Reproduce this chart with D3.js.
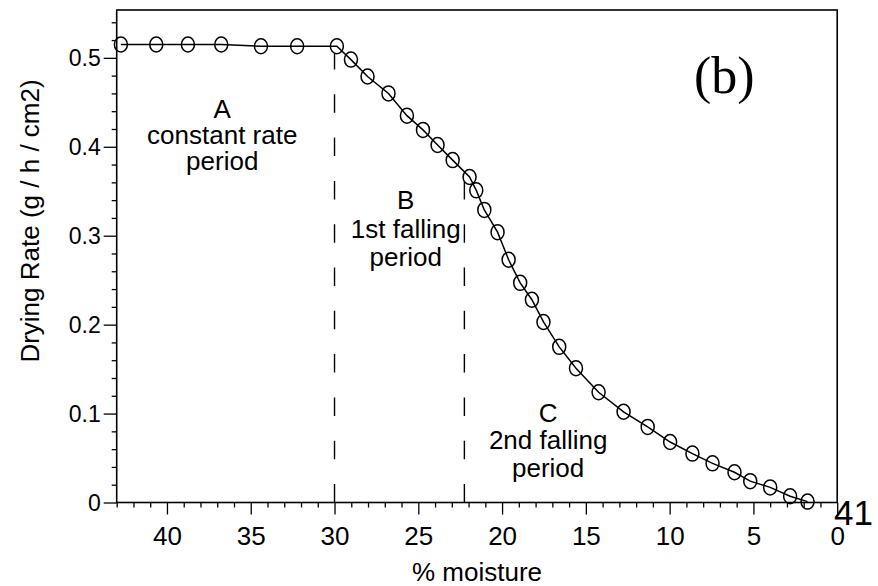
<!DOCTYPE html>
<html>
<head>
<meta charset="utf-8">
<script src="https://cdn.jsdelivr.net/npm/d3@7"></script>
<style>
  html, body { margin: 0; padding: 0; background: #fff; }
  svg { display: block; }
  text { font-family: "Liberation Sans", Arial, sans-serif; fill: #000; }
</style>
</head>
<body>
<svg id="chart" width="878" height="586"></svg>
<script>
// ---- data ----
const moisture = [42.75, 40.64, 38.75, 36.76, 34.39, 32.23, 29.86, 29.02, 28.03, 26.78,
  25.68, 24.72, 23.85, 22.95, 21.94, 21.54, 21.06, 20.27, 19.61, 18.92,
  18.22, 17.53, 16.59, 15.59, 14.24, 12.75, 11.31, 9.97, 8.64, 7.44,
  6.13, 5.19, 4.00, 2.81, 1.77];
const dryingRate = [0.515, 0.515, 0.515, 0.515, 0.513, 0.513, 0.513, 0.498, 0.479, 0.460,
  0.435, 0.419, 0.402, 0.385, 0.366, 0.351, 0.329, 0.304, 0.273, 0.247,
  0.228, 0.203, 0.175, 0.151, 0.124, 0.102, 0.085, 0.068, 0.055, 0.044,
  0.034, 0.024, 0.017, 0.007, 0.001];
const xMajorTicks = [40, 35, 30, 25, 20, 15, 10, 5, 0];
const yMajorTicks = [0, 0.1, 0.2, 0.3, 0.4, 0.5];
const yTickLabels = ["0", "0.1", "0.2", "0.3", "0.4", "0.5"];
const periodBoundaries = [30, 22.25];
const boundaryTops = [0.505, 0.362];
const regionLabelsA = ["A", "constant rate", "period"];
const regionLabelsB = ["B", "1st falling", "period"];
const regionLabelsC = ["C", "2nd falling", "period"];
const regionCenters = [36.7, 25.75, 17.25];   // moisture position of each label block
const regionTopRates = [0.432, 0.33, 0.091]; // rate at baseline of first line
const xTitle = "% moisture";
const yTitle = "Drying Rate (g / h / cm2)";
const panelLabel = "(b)";
const strayLabel = "41";

// ---- layout ----
const svg = d3.select("#chart");
const L = 116.7, R = 837.2, T = 10, B = 502.5;
const x = d3.scaleLinear().domain([43, 0]).range([L, R]);
const y = d3.scaleLinear().domain([0, 0.5538]).range([B, T]);

// minor ticks
const xMinor = d3.range(0, 44, 1).filter(v => v % 5 !== 0);
const yMinor = d3.range(0, 0.55, 0.02).map(v => +v.toFixed(2)).filter(v => Math.abs(v * 10 - Math.round(v * 10)) > 1e-6);

// x axis
const gx = svg.append("g").attr("transform", `translate(0,${B})`);
gx.call(d3.axisBottom(x).tickValues(xMinor).tickSize(5).tickFormat(""));
gx.call(g => g.select(".domain").remove());
const gx2 = svg.append("g").attr("transform", `translate(0,${B})`);
gx2.call(d3.axisBottom(x).tickValues(xMajorTicks).tickSize(12).tickFormat(d3.format("d")));
gx2.select(".domain").remove();
gx2.selectAll("text").attr("y", 42.5).attr("dy", null)
  .style("font-size", "26px").style("font-family", "Liberation Sans, Arial, sans-serif").attr("fill", "#000");
svg.selectAll(".tick line").attr("stroke", "#000").attr("stroke-width", 1.3);

// y axis
const gy = svg.append("g").attr("transform", `translate(${L},0)`);
gy.call(d3.axisLeft(y).tickValues(yMinor).tickSize(5).tickFormat(""));
gy.select(".domain").remove();
const gy2 = svg.append("g").attr("transform", `translate(${L},0)`);
gy2.call(d3.axisLeft(y).tickValues(yMajorTicks).tickSize(13).tickPadding(3)
  .tickFormat((d, i) => yTickLabels[i]));
gy2.select(".domain").remove();
gy2.selectAll("text").attr("dy", "0.35em")
  .style("font-size", "23px").style("font-family", "Liberation Sans, Arial, sans-serif").attr("fill", "#000");
svg.selectAll(".tick line").attr("stroke", "#000").attr("stroke-width", 1.3);

// frame
svg.append("rect").attr("x", L).attr("y", T).attr("width", R - L).attr("height", B - T)
  .attr("fill", "none").attr("stroke", "#000").attr("stroke-width", 1.6);

// dashed period boundaries
svg.selectAll(".boundary").data(periodBoundaries).enter().append("line")
  .attr("x1", d => x(d)).attr("x2", d => x(d))
  .attr("y1", y(0)).attr("y2", (d, i) => y(boundaryTops[i]))
  .attr("stroke", "#000").attr("stroke-width", 1.4)
  .attr("stroke-dasharray", "18.5,24.8");

// curve
const pts = moisture.map((m, i) => [m, dryingRate[i]]);
svg.append("path").datum(pts)
  .attr("d", d3.line().x(d => x(d[0])).y(d => y(d[1])))
  .attr("fill", "none").attr("stroke", "#000").attr("stroke-width", 1.5);
svg.selectAll(".pt").data(pts).enter().append("ellipse")
  .attr("cx", d => x(d[0])).attr("cy", d => y(d[1]))
  .attr("rx", 6.5).attr("ry", 7.5)
  .attr("fill", "none").attr("stroke", "#000").attr("stroke-width", 1.5);

// region labels
const blocks = [regionLabelsA, regionLabelsB, regionLabelsC];
const spacing = [26, 28.7, 27.5];
blocks.forEach((lines, bi) => {
  const t = svg.append("text")
    .attr("text-anchor", "middle")
    .style("font-size", "26px");
  lines.forEach((s, li) => {
    t.append("tspan")
      .attr("x", x(regionCenters[bi]))
      .attr("y", y(regionTopRates[bi]) + li * spacing[bi])
      .text(s);
  });
});

// axis titles
svg.append("text").attr("x", 477).attr("y", 581).attr("text-anchor", "middle")
  .style("font-size", "26px").text(xTitle);
svg.append("text").attr("transform", "translate(39,221) rotate(-90)")
  .attr("text-anchor", "middle").style("font-size", "26px").text(yTitle);

// panel label
svg.append("text").attr("x", 694).attr("y", 93)
  .style("font-family", "Liberation Serif, 'Times New Roman', serif")
  .style("font-size", "52px").text(panelLabel);

// stray label
svg.append("text").attr("x", 834).attr("y", 525)
  .style("font-size", "35px").text(strayLabel);
</script>
</body>
</html>
